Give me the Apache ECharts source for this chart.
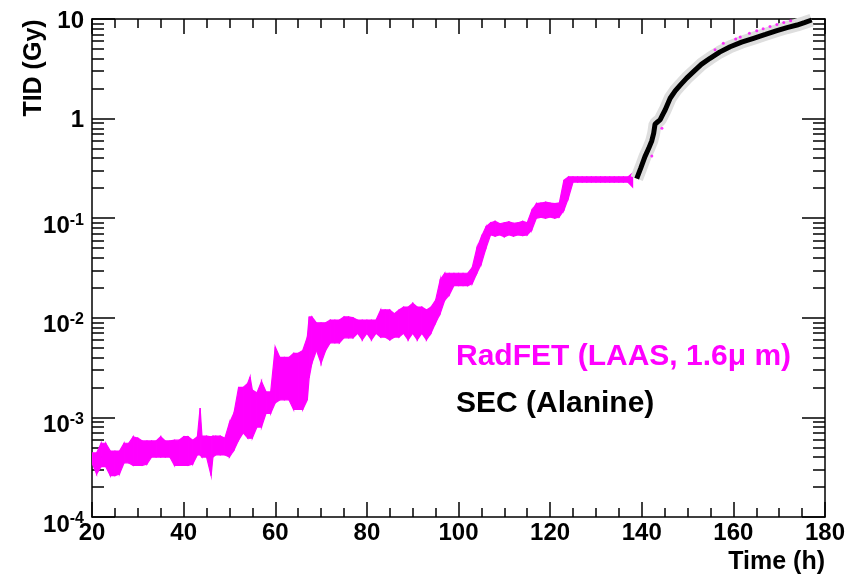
<!DOCTYPE html>
<html>
<head>
<meta charset="utf-8">
<script src="https://cdn.jsdelivr.net/npm/echarts@6/dist/echarts.min.js"></script>
<style>
html,body{margin:0;padding:0;background:#fff;}
#chart{width:849px;height:577px;}
</style>
</head>
<body>
<div id="chart"></div>
<script>
// RadFET (magenta band): time (h), low / high of the noisy band (Gy)
var radfetTime = [20,21,22,23,24,25,26,27,28,29,30,31,32,33,34,35,36,37,38,39,40,41,42,43,43.6,44,45,46,46.4,47,48,49,50,51,52,53,54,54.5,55,56,57,58,59,60,61,62,63,64,65,66,67,67.4,68,69,70,71,72,73,74,75,76,77,78,79,80,81,82,83,84,85,86,87,88,89,90,91,92,93,94,95,96,97,98,99,100,101,102,103,104,105,106,107,108,109,110,111,112,113,114,115,116,117,118,119,120,121,122,123,124,125,126,127,128,129,130,131,132,133,134,135,136,137,138];
var radfetLow  = [3.5e-4,2.7e-4,3.2e-4,3.2e-4,2.6e-4,2.6e-4,2.7e-4,3.5e-4,3.5e-4,3.3e-4,3.3e-4,3.3e-4,3.4e-4,4.0e-4,4.0e-4,4.0e-4,4.0e-4,4.0e-4,3.3e-4,3.3e-4,3.3e-4,3.3e-4,3.4e-4,4.2e-4,4.2e-4,4.0e-4,4.0e-4,2.6e-4,4.0e-4,4.2e-4,4.2e-4,4.2e-4,4.0e-4,4.7e-4,5.9e-4,7.0e-4,6.2e-4,6.2e-4,6.2e-4,8.0e-4,8.0e-4,1.1e-3,1.1e-3,1.4e-3,1.5e-3,1.5e-3,1.5e-3,1.2e-3,1.2e-3,1.2e-3,1.5e-3,2.5e-3,3.5e-3,4.7e-3,3.5e-3,4.7e-3,5.6e-3,5.6e-3,5.6e-3,6.3e-3,6.3e-3,6.3e-3,7.0e-3,6.0e-3,7.0e-3,6.0e-3,7.0e-3,6.4e-3,6.4e-3,6.0e-3,6.4e-3,6.4e-3,7.0e-3,6.0e-3,7.0e-3,6.0e-3,7.0e-3,6.0e-3,7.0e-3,8.9e-3,1.1e-2,1.5e-2,1.7e-2,2.1e-2,2.1e-2,2.1e-2,2.1e-2,2.2e-2,2.8e-2,3.5e-2,5.0e-2,6.8e-2,6.6e-2,6.8e-2,6.5e-2,6.8e-2,6.6e-2,6.8e-2,6.7e-2,6.8e-2,7.6e-2,1.0e-1,1.02e-1,1.0e-1,1.03e-1,1.0e-1,1.03e-1,1.2e-1,1.6e-1,2.3e-1,2.3e-1,2.3e-1,2.3e-1,2.3e-1,2.3e-1,2.3e-1,2.3e-1,2.3e-1,2.3e-1,2.3e-1,2.3e-1,2.3e-1,2.06e-1];
var radfetHigh = [4.4e-4,4.4e-4,5.5e-4,5.5e-4,4.6e-4,4.6e-4,4.6e-4,5.5e-4,5.5e-4,6.4e-4,6.2e-4,5.8e-4,5.8e-4,5.8e-4,5.8e-4,6.4e-4,5.8e-4,5.8e-4,5.9e-4,5.9e-4,6.4e-4,6.4e-4,5.9e-4,6.4e-4,1.24e-3,6.5e-4,6.5e-4,6.4e-4,6.5e-4,6.5e-4,6.5e-4,6.2e-4,8.8e-4,1.11e-3,2.0e-3,2.0e-3,2.2e-3,2.55e-3,1.88e-3,1.76e-3,2.3e-3,1.8e-3,1.8e-3,5.1e-3,4.0e-3,4.0e-3,4.0e-3,4.4e-3,4.4e-3,4.7e-3,6.4e-3,1.02e-2,1.02e-2,8.9e-3,8.9e-3,8.9e-3,9.5e-3,9.5e-3,9.5e-3,1.02e-2,1.02e-2,1.0e-2,9.5e-3,9.5e-3,9.5e-3,9.5e-3,9.5e-3,1.2e-2,1.2e-2,1.2e-2,1.1e-2,1.2e-2,1.28e-2,1.28e-2,1.4e-2,1.28e-2,1.28e-2,1.2e-2,1.28e-2,1.5e-2,2.4e-2,2.8e-2,2.8e-2,2.8e-2,2.8e-2,2.8e-2,2.8e-2,3.2e-2,5.0e-2,6.5e-2,8.2e-2,9.0e-2,9.3e-2,8.8e-2,9.0e-2,9.2e-2,8.9e-2,9.0e-2,9.3e-2,9.0e-2,1.2e-1,1.4e-1,1.42e-1,1.45e-1,1.42e-1,1.4e-1,1.42e-1,2.4e-1,2.6e-1,2.6e-1,2.6e-1,2.6e-1,2.6e-1,2.6e-1,2.6e-1,2.6e-1,2.6e-1,2.6e-1,2.6e-1,2.6e-1,2.6e-1,2.6e-1,2.84e-1];

// SEC (Alanine) black curve
var secTime = [138.9,139.8,140.7,141.5,142.2,142.6,142.9,143.5,144.0,144.6,145.1,146.2,147.3,148.4,149.8,151.3,153.0,154.9,157.0,159.3,161.8,164.4,167.0,169.5,171.7,173.9,175.5,177.1];
var secDose = [0.25,0.32,0.415,0.5,0.6,0.71,0.88,0.93,0.97,1.1,1.22,1.6,1.9,2.17,2.55,2.96,3.5,4.03,4.65,5.27,5.85,6.4,7.0,7.64,8.2,8.7,9.2,9.77];

// stray RadFET points above the SEC curve
var dotTime = [142.2,144.4,156.0,157.8,160.5,161.5,163.5,165.1,166.5,168.0,169.5,171.0,172.5];
var dotDose = [0.42,0.8,4.9,5.7,6.3,6.6,7.2,7.64,8.0,8.4,8.8,9.2,9.6];

var xTicks = [20,40,60,80,100,120,140,160,180];

var FONT = '"Liberation Sans", Arial, Helvetica, sans-serif';

var bandData = radfetTime.map(function(t,i){ return [t, radfetLow[i], radfetHigh[i]]; });
var secData = secTime.map(function(t,i){ return [t, secDose[i]]; });
var dotData = dotTime.map(function(t,i){ return [t, dotDose[i]]; });

// band piece between point i and i+1
function renderBand(params, api){
    var i = params.dataIndex;
    if(i + 1 >= radfetTime.length) return null;
    var t0 = radfetTime[i], t1 = radfetTime[i+1];
    var pts = [
        api.coord([t0, radfetHigh[i]]),
        api.coord([t1, radfetHigh[i+1]]),
        api.coord([t1, radfetLow[i+1]]),
        api.coord([t0, radfetLow[i]])
    ];
    return {
        type:'polygon',
        shape:{points:pts},
        style:{fill:'#ff00ff', stroke:'#ff00ff', lineWidth:1.2}
    };
}

function yLabel(v){
    var e = Math.round(Math.log10(v));
    if(e >= 0) return '{n|' + Math.pow(10,e) + '}';
    return '{b|10}{s|' + e + '}';
}

var xBase = {
    type:'value', min:20, max:180, interval:20,
    axisLine:{show:true, lineStyle:{color:'#000', width:1.5}},
    axisTick:{show:true, inside:true, length:15, lineStyle:{color:'#000', width:1.5}},
    minorTick:{show:true, splitNumber:4, length:9, lineStyle:{color:'#000', width:1.5}},
    splitLine:{show:false}
};
var yBase = {
    type:'log', logBase:10, min:1e-4, max:10,
    axisLine:{show:true, lineStyle:{color:'#000', width:1.5}},
    axisTick:{show:true, inside:true, length:23, lineStyle:{color:'#000', width:1.5}},
    minorTick:{show:true, splitNumber:9, length:12, lineStyle:{color:'#000', width:1.5}},
    splitLine:{show:false}
};

var myChart = echarts.init(document.getElementById('chart'));
var option = {
    animation:false,
    backgroundColor:'#fff',
    grid:{left:92, right:24, top:19, bottom:60},
    xAxis:[
        Object.assign({}, xBase, {
            position:'bottom',
            axisLabel:{show:true, margin:4, color:'#000', fontSize:24, fontWeight:'bold', fontFamily:FONT,
                formatter:function(v){ return xTicks.indexOf(v) >= 0 ? String(v) : ''; }}
        }),
        Object.assign({}, xBase, {position:'top', axisLabel:{show:false}})
    ],
    yAxis:[
        Object.assign({}, yBase, {
            position:'left',
            axisLabel:{
                show:true, margin:8, color:'#000', formatter:yLabel, padding:[12,0,0,0],
                rich:{
                    n:{fontSize:24, fontWeight:'bold', fontFamily:FONT, lineHeight:24, padding:[0,0,8,0]},
                    b:{fontSize:24, fontWeight:'bold', fontFamily:FONT, lineHeight:24, padding:[4,0,0,0]},
                    s:{fontSize:16, fontWeight:'bold', fontFamily:FONT, lineHeight:16, verticalAlign:'top'}
                }
            }
        }),
        Object.assign({}, yBase, {position:'right', axisLabel:{show:false}})
    ],
    graphic:[
        {type:'text', x:34, y:68, rotation:Math.PI/2,
            style:{text:'TID (Gy)', font:'bold 25px ' + FONT, fill:'#000', align:'center', verticalAlign:'middle'}},
        {type:'text', x:825, y:562,
            style:{text:'Time (h)', font:'bold 25px ' + FONT, fill:'#000', align:'right', verticalAlign:'middle'}},
        {type:'text', x:456, y:357,
            style:{text:'RadFET (LAAS, 1.6\u03bc m)', font:'bold 30px ' + FONT, fill:'#ff00ff', align:'left', verticalAlign:'middle'}},
        {type:'text', x:456, y:404,
            style:{text:'SEC (Alanine)', font:'bold 30px ' + FONT, fill:'#000', align:'left', verticalAlign:'middle'}}
    ],
    series:[
        {
            name:'RadFET', type:'custom', renderItem:renderBand, clip:true,
            encode:{x:0, y:[1,2]}, data:bandData, z:2
        },
        {
            name:'SEC halo', type:'line', data:secData, showSymbol:false,
            lineStyle:{color:'#dedede', width:13}, z:3
        },
        {
            name:'SEC', type:'line', data:secData, showSymbol:false,
            lineStyle:{color:'#000', width:5}, z:4
        },
        {
            name:'RadFET dots', type:'scatter', data:dotData, symbolSize:3,
            itemStyle:{color:'#ff00ff'}, z:5
        }
    ]
};
myChart.setOption(option);
</script>
</body>
</html>
